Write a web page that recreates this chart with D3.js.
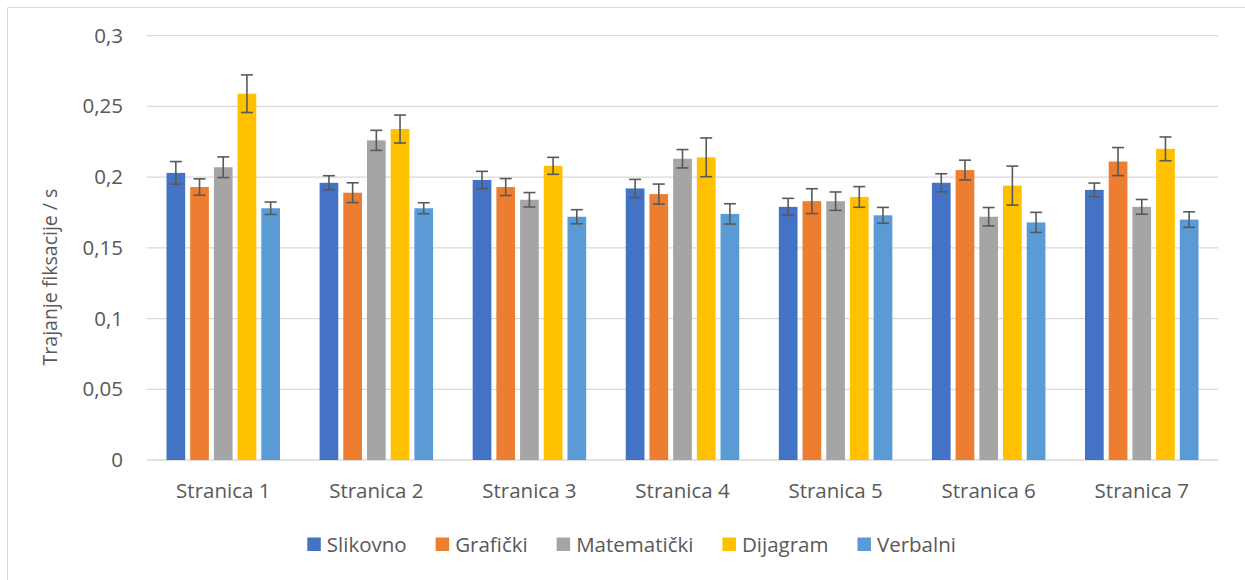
<!DOCTYPE html>
<html>
<head>
<meta charset="utf-8">
<script src="https://cdn.jsdelivr.net/npm/d3@7"></script>
<style>
  html, body { margin: 0; padding: 0; background: #fff; }
  svg { display: block; }
  text { font-family: "Open Sans", "Noto Sans", sans-serif; fill: #595959; }
</style>
</head>
<body>
<svg id="chart" width="1245" height="580"></svg>
<script>
const categories = ["Stranica 1", "Stranica 2", "Stranica 3", "Stranica 4", "Stranica 5", "Stranica 6", "Stranica 7"];
const seriesNames = ["Slikovno", "Grafički", "Matematički", "Dijagram", "Verbalni"];
const seriesColors = ["#4472C4", "#ED7D31", "#A5A5A5", "#FFC000", "#5B9BD5"];

const slikovno    = [0.203, 0.196, 0.198, 0.192, 0.179, 0.196, 0.191];
const graficki    = [0.193, 0.189, 0.193, 0.188, 0.183, 0.205, 0.211];
const matematicki = [0.207, 0.226, 0.184, 0.213, 0.183, 0.172, 0.179];
const dijagram    = [0.259, 0.234, 0.208, 0.214, 0.186, 0.194, 0.220];
const verbalni    = [0.178, 0.178, 0.172, 0.174, 0.173, 0.168, 0.170];

const errSlikovno    = [0.0080, 0.0050, 0.0061, 0.0064, 0.0060, 0.0064, 0.0048];
const errGraficki    = [0.0058, 0.0070, 0.0060, 0.0071, 0.0088, 0.0070, 0.0099];
const errMatematicki = [0.0073, 0.0071, 0.0051, 0.0065, 0.0065, 0.0065, 0.0052];
const errDijagram    = [0.0133, 0.0099, 0.0060, 0.0137, 0.0073, 0.0138, 0.0084];
const errVerbalni    = [0.0044, 0.0039, 0.0050, 0.0072, 0.0056, 0.0071, 0.0055];

const yTicks = [0, 0.05, 0.1, 0.15, 0.2, 0.25, 0.3];
const yTitle = "Trajanje fiksacije / s";

const values = [slikovno, graficki, matematicki, dijagram, verbalni];
const errors = [errSlikovno, errGraficki, errMatematicki, errDijagram, errVerbalni];

const FS = 20.5;
const svg = d3.select("#chart");
const plotLeft = 146.7, plotRight = 1218.3, plotTop = 35.7, plotBottom = 460;

// chart border (top and left visible)
svg.append("path").attr("d", "M7.5,580 L7.5,7.5 L1245,7.5")
  .attr("fill", "none").attr("stroke", "#d9d9d9").attr("stroke-width", 1);

const y = d3.scaleLinear().domain([0, 0.3]).range([plotBottom, plotTop]);
const x0 = d3.scaleBand().domain(categories).range([plotLeft, plotRight]).paddingInner(0).paddingOuter(0);
const x1 = d3.scaleBand().domain(seriesNames).range([0, x0.bandwidth()]).paddingInner(0.211).paddingOuter(0.835);

const fmt = v => String(v).replace(".", ",");

// gridlines
svg.append("g").selectAll("line").data(yTicks).join("line")
  .attr("x1", plotLeft).attr("x2", plotRight)
  .attr("y1", d => y(d)).attr("y2", d => y(d))
  .attr("stroke", "#d9d9d9").attr("stroke-width", 1.3);

// y axis labels
const yAxis = d3.axisLeft(y).tickValues(yTicks).tickFormat(fmt).tickSize(0).tickPadding(0);
const yg = svg.append("g").attr("transform", "translate(123,0)").call(yAxis);
yg.select(".domain").remove();
yg.selectAll("text").attr("font-size", FS).attr("fill", "#595959")
  .attr("font-family", '"Open Sans", "Noto Sans", sans-serif');

// y title
svg.append("text").attr("transform", "translate(57,277) rotate(-90)")
  .attr("text-anchor", "middle").attr("font-size", 19.5).text(yTitle);

// bars
const data = [];
categories.forEach((c, ci) => seriesNames.forEach((s, si) => {
  data.push({ c, s, si, v: values[si][ci], e: errors[si][ci] });
}));

svg.append("g").selectAll("rect").data(data).join("rect")
  .attr("x", d => x0(d.c) + x1(d.s))
  .attr("width", x1.bandwidth())
  .attr("y", d => y(d.v))
  .attr("height", d => y(0) - y(d.v))
  .attr("fill", d => seriesColors[d.si]);

// error bars
const eg = svg.append("g").attr("stroke", "#595959").attr("stroke-width", 1.6);
const cx = d => x0(d.c) + x1(d.s) + x1.bandwidth() / 2;
eg.selectAll("line.v").data(data).join("line").attr("class", "v")
  .attr("x1", cx).attr("x2", cx)
  .attr("y1", d => y(d.v + d.e)).attr("y2", d => y(d.v - d.e));
eg.selectAll("line.t").data(data).join("line").attr("class", "t")
  .attr("x1", d => cx(d) - 6).attr("x2", d => cx(d) + 6)
  .attr("y1", d => y(d.v + d.e)).attr("y2", d => y(d.v + d.e));
eg.selectAll("line.b").data(data).join("line").attr("class", "b")
  .attr("x1", d => cx(d) - 6).attr("x2", d => cx(d) + 6)
  .attr("y1", d => y(d.v - d.e)).attr("y2", d => y(d.v - d.e));

// x axis labels
const xAxis = d3.axisBottom(x0).tickSize(0).tickPadding(0);
const xg = svg.append("g").attr("transform", "translate(0,498)").call(xAxis);
xg.select(".domain").remove();
xg.selectAll("text").attr("font-size", FS).attr("fill", "#595959").attr("dy", 0)
  .attr("font-family", '"Open Sans", "Noto Sans", sans-serif');

// legend
const lg = svg.append("g");
let lx = 307.3;
seriesNames.forEach((s, i) => {
  lg.append("rect").attr("x", lx).attr("y", 537.5).attr("width", 13.5).attr("height", 13.5)
    .attr("fill", seriesColors[i]);
  const t = lg.append("text").attr("x", lx + 19.5).attr("y", 551.5)
    .attr("font-size", FS).text(s);
  lx += 19.5 + t.node().getComputedTextLength() + 29;
});
</script>
</body>
</html>
